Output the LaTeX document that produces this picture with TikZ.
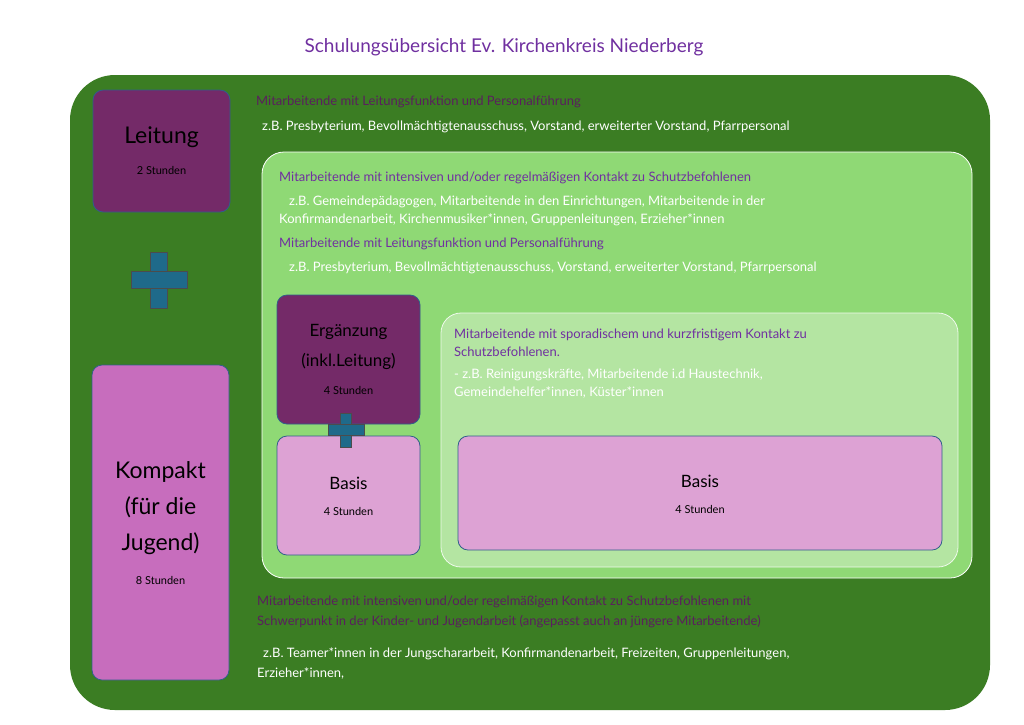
\documentclass[tikz,border=0pt]{standalone}
\usepackage{fontspec}
\setmainfont{Lato}
\begin{document}
\begin{tikzpicture}[x=1pt,y=-1pt,
 txt/.style={anchor=west,inner sep=0pt,font=\fontsize{13}{16}\selectfont,align=left},
 pur/.style={txt,text=purp},
 dpur/.style={txt,text=dpurp},
 wht/.style={txt,text=white},
 box/.style={draw=boxb,line width=0.8pt,rounded corners=10pt},
 plus/.style={fill=plusc,draw=black!70,line width=0.6pt}]
\definecolor{purp}{HTML}{7030A0}
\definecolor{dpurp}{HTML}{5A1F5E}
\definecolor{dgreen}{HTML}{3B7D23}
\definecolor{lgreen}{HTML}{8FD975}
\definecolor{pgreen}{HTML}{B4E5A2}
\definecolor{dviolet}{HTML}{742A68}
\definecolor{mviolet}{HTML}{C76DBD}
\definecolor{lviolet}{HTML}{DDA2D4}
\definecolor{boxb}{HTML}{2F5F8A}
\definecolor{plusc}{HTML}{1F6A8A}
\useasboundingbox (0,0) rectangle (1024,724);
\fill[white] (0,0) rectangle (1024,724);
\node[text=purp,font=\fontsize{19}{22}\selectfont] (title) at (504,47) {Schulungsübersicht Ev. Kirchenkreis Niederberg};
\node[fill=dgreen,rounded corners=45pt,minimum width=920pt,minimum height=635pt,inner sep=0pt] (outer) at (530,392.5) {};
\node[box,fill=dviolet,minimum width=137pt,minimum height=122pt,inner sep=0pt] (leit) at (161.5,151) {};
\node[font=\fontsize{23}{26}\selectfont] at (161.5,137) {Leitung};
\node[font=\fontsize{11}{13}\selectfont] at (161.5,170) {2 Stunden};
\fill[plus] (150.5,252) rectangle (167.5,308);
\fill[plus] (131,271.5) rectangle (187,288.5);
\fill[plusc] (151,272.5) rectangle (167,287.5);
\node[box,fill=mviolet,minimum width=137pt,minimum height=315pt,inner sep=0pt] (komp) at (160.5,522.5) {};
\node[font=\fontsize{23}{36}\selectfont,align=center] at (160.5,508) {Kompakt\\(für die\\Jugend)};
\node[font=\fontsize{11}{13}\selectfont] at (160.5,580) {8 Stunden};
\node[dpur] at (256,102) {Mitarbeitende mit Leitungsfunktion und Personalführung};
\node[wht] at (262,127) {z.B. Presbyterium, Bevollmächtigtenausschuss, Vorstand, erweiterter Vorstand, Pfarrpersonal};
\node[draw=white,fill=lgreen,rounded corners=22pt,line width=0.8pt,minimum width=710pt,minimum height=426pt,inner sep=0pt] (inner) at (617,365) {};
\node[pur] at (279,178) {Mitarbeitende mit intensiven und/oder regelmäßigen Kontakt zu Schutzbefohlenen};
\node[wht,font=\fontsize{13}{18}\selectfont] at (279,211) {\hspace*{10pt}z.B. Gemeindepädagogen, Mitarbeitende in den Einrichtungen, Mitarbeitende in der\\Konfirmandenarbeit, Kirchenmusiker*innen, Gruppenleitungen, Erzieher*innen};
\node[pur] at (279,244) {Mitarbeitende mit Leitungsfunktion und Personalführung};
\node[wht] at (289,268) {z.B. Presbyterium, Bevollmächtigtenausschuss, Vorstand, erweiterter Vorstand, Pfarrpersonal};
\node[draw=white!85!lgreen,fill=pgreen,rounded corners=20pt,line width=0.8pt,minimum width=517pt,minimum height=254pt,inner sep=0pt] (pale) at (699.5,440) {};
\node[pur,font=\fontsize{13}{18}\selectfont] at (454,343) {Mitarbeitende mit sporadischem und kurzfristigem Kontakt zu\\Schutzbefohlenen.};
\node[wht,font=\fontsize{13}{18}\selectfont] at (454,384) {- z.B. Reinigungskräfte, Mitarbeitende i.d Haustechnik,\\Gemeindehelfer*innen, Küster*innen};
\node[box,fill=dviolet,minimum width=143pt,minimum height=129pt,inner sep=0pt] (erg) at (348.5,359.5) {};
\node[font=\fontsize{17}{30}\selectfont,align=center] at (348.5,347) {Ergänzung\\(inkl.Leitung)};
\node[font=\fontsize{11}{13}\selectfont] at (348.5,390) {4 Stunden};
\node[box,fill=lviolet,minimum width=143pt,minimum height=119pt,inner sep=0pt] (basis1) at (348.5,495.5) {};
\node[font=\fontsize{17}{20}\selectfont] at (348.5,483) {Basis};
\node[font=\fontsize{11}{13}\selectfont] at (348.5,511) {4 Stunden};
\fill[plus] (340,413) rectangle (351,447);
\fill[plus] (328,424.5) rectangle (364,435.5);
\fill[plusc] (340.5,425) rectangle (350.5,435);
\node[box,fill=lviolet,minimum width=484pt,minimum height=114pt,inner sep=0pt] (basis2) at (700,493) {};
\node[font=\fontsize{17}{20}\selectfont] at (700,481) {Basis};
\node[font=\fontsize{11}{13}\selectfont] at (700,509) {4 Stunden};
\node[dpur,font=\fontsize{13}{20}\selectfont] at (257,612) {Mitarbeitende mit intensiven und/oder regelmäßigen Kontakt zu Schutzbefohlenen mit\\Schwerpunkt in der Kinder- und Jugendarbeit (angepasst auch an jüngere Mitarbeitende)};
\node[wht,font=\fontsize{13}{20}\selectfont] at (257,663) {\hspace*{6pt}z.B. Teamer*innen in der Jungschararbeit, Konfirmandenarbeit, Freizeiten, Gruppenleitungen,\\Erzieher*innen,};
\end{tikzpicture}
\end{document}
